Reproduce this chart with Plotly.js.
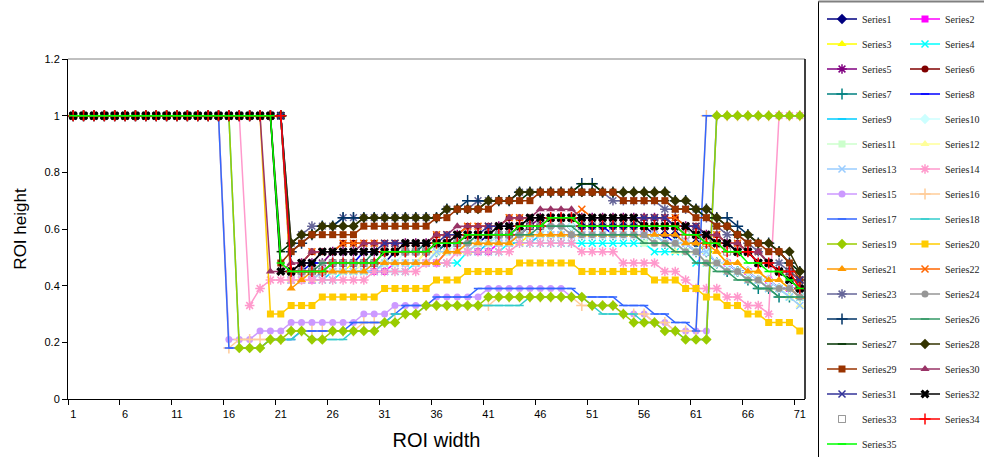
<!DOCTYPE html>
<html><head><meta charset="utf-8">
<script src="https://cdn.plot.ly/plotly-3.0.1.min.js"></script>
<style>html,body{margin:0;padding:0;background:#fff}#chart{width:984px;height:457px}</style>
</head><body><div id="chart"></div>
<script>
const categories = [1,2,3,4,5,6,7,8,9,10,11,12,13,14,15,16,17,18,19,20,21,22,23,24,25,26,27,28,29,30,31,32,33,34,35,36,37,38,39,40,41,42,43,44,45,46,47,48,49,50,51,52,53,54,55,56,57,58,59,60,61,62,63,64,65,66,67,68,69,70,71];
const xTickValues = [1,6,11,16,21,26,31,36,41,46,51,56,61,66,71];
const xTickLabels = ['1','6','11','16','21','26','31','36','41','46','51','56','61','66','71'];
const xTickMarks = [0.5,5.5,10.5,15.5,20.5,25.5,30.5,35.5,40.5,45.5,50.5,55.5,60.5,65.5,70.5];
const yTickValues = [0,0.2,0.4,0.6,0.8,1,1.2];
const seriesNames = ['Series1','Series2','Series3','Series4','Series5','Series6','Series7','Series8','Series9','Series10','Series11','Series12','Series13','Series14','Series15','Series16','Series17','Series18','Series19','Series20','Series21','Series22','Series23','Series24','Series25','Series26','Series27','Series28','Series29','Series30','Series31','Series32','Series33','Series34','Series35'];

const S1 = [1,1,1,1,1,1,1,1,1,1, 1,1,1,1,1,1,1,1,1,1, 1,.45,.45,.45,.45,.48,.48,.48,.48,.48, .48,.52,.52,.52,.52,.52,.55,.55,.55,.55, .58,.58,.58,.58,.61,.61,.61,.61,.61,.61, .61,.61,.61,.61,.61,.61,.58,.58,.58,.55, .55,.52,.48,.48,.45,.45,.42,.42,.39,.39,.39];
const S2 = [1,1,1,1,1,1,1,1,1,1, 1,1,1,1,1,1,1,1,1,1, 1,.42,.42,.42,.45,.45,.45,.45,.45,.45, .45,.48,.48,.48,.48,.48,.52,.52,.52,.52, .52,.55,.55,.58,.58,.58,.58,.58,.58,.58, .58,.58,.58,.58,.58,.58,.58,.55,.55,.55, .52,.52,.48,.48,.45,.45,.42,.42,.39,.39,.36];
const S3 = [1,1,1,1,1,1,1,1,1,1, 1,1,1,1,1,1,1,1,1,1, 1,.45,.45,.45,.45,.45,.45,.48,.48,.48, .48,.48,.48,.48,.52,.52,.52,.52,.52,.55, .55,.55,.55,.55,.58,.58,.58,.58,.58,.58, .58,.58,.58,.58,.58,.58,.58,.55,.55,.55, .55,.52,.52,.48,.48,.45,.45,.42,.42,.39,.36];
const S4 = [1,1,1,1,1,1,1,1,1,1, 1,1,1,1,1,1,1,1,1,1, 1,.42,.42,.42,.42,.42,.45,.45,.45,.45, .45,.45,.45,.48,.48,.48,.48,.48,.52,.52, .52,.52,.55,.55,.55,.55,.55,.55,.55,.55, .55,.55,.55,.55,.55,.55,.52,.52,.52,.52, .48,.48,.48,.45,.45,.42,.42,.39,.39,.36,.36];
const S5 = [1,1,1,1,1,1,1,1,1,1, 1,1,1,1,1,1,1,1,1,1, 1,.45,.48,.48,.48,.52,.52,.52,.52,.52, .52,.52,.55,.55,.55,.55,.55,.58,.58,.58, .58,.61,.61,.61,.61,.64,.64,.64,.64,.64, .64,.64,.64,.64,.64,.64,.64,.64,.61,.61, .58,.58,.55,.55,.52,.52,.48,.48,.45,.45,.42];
const S6 = [1,1,1,1,1,1,1,1,1,1, 1,1,1,1,1,1,1,1,1,1, 1,.45,.48,.52,.52,.52,.55,.55,.55,.55, .55,.55,.55,.55,.55,.58,.58,.58,.61,.61, .61,.61,.64,.64,.64,.64,.64,.64,.64,.64, .64,.64,.64,.64,.64,.64,.64,.64,.64,.61, .61,.58,.58,.55,.55,.52,.52,.48,.45,.45,.42];
const S7 = [1,1,1,1,1,1,1,1,1,1, 1,1,1,1,1,1,1,1,1,1, 1,.45,.45,.45,.45,.48,.48,.48,.48,.48, .52,.52,.52,.52,.52,.52,.55,.55,.55,.55, .55,.58,.58,.58,.58,.58,.58,.58,.58,.58, .58,.58,.58,.58,.58,.58,.58,.55,.55,.55, .52,.52,.48,.45,.45,.42,.39,.39,.36,.36,.36];
const S8 = [1,1,1,1,1,1,1,1,1,1, 1,1,1,1,1,1,1,1,1,1, 1,.45,.45,.48,.48,.48,.48,.48,.52,.52, .52,.52,.52,.52,.55,.55,.55,.55,.58,.58, .58,.58,.58,.61,.61,.61,.61,.61,.61,.61, .61,.61,.58,.58,.58,.58,.58,.58,.55,.55, .52,.52,.48,.48,.45,.45,.42,.42,.39,.39,.36];
const S9 = [1,1,1,1,1,1,1,1,1,1, 1,1,1,1,1,1,1,1,1,1, 1,.42,.42,.42,.42,.45,.45,.45,.45,.45, .48,.48,.48,.48,.48,.52,.52,.52,.52,.52, .55,.55,.55,.55,.55,.58,.58,.58,.58,.58, .58,.58,.58,.58,.58,.58,.55,.55,.55,.52, .52,.48,.48,.45,.45,.42,.42,.39,.39,.36,.36];
const S10 = [1,1,1,1,1,1,1,1,1,1, 1,1,1,1,1,1,1,1,1,1, 1,.45,.45,.45,.45,.48,.48,.48,.48,.48, .48,.48,.52,.52,.52,.52,.52,.55,.55,.55, .55,.58,.58,.58,.58,.58,.61,.61,.61,.58, .58,.58,.58,.58,.58,.58,.58,.55,.55,.55, .52,.52,.48,.48,.45,.45,.42,.42,.39,.39,.36];
const S11 = [1,1,1,1,1,1,1,1,1,1, 1,1,1,1,1,1,1,1,1,1, 1,.42,.42,.45,.45,.45,.45,.45,.45,.48, .48,.48,.48,.48,.48,.52,.52,.52,.52,.55, .55,.55,.55,.58,.58,.58,.58,.58,.58,.58, .58,.58,.58,.58,.58,.55,.55,.55,.55,.52, .52,.48,.48,.45,.45,.42,.42,.39,.39,.36,.36];
const S12 = [1,1,1,1,1,1,1,1,1,1, 1,1,1,1,1,1,1,1,1,1, 1,.42,.42,.42,.45,.45,.45,.45,.48,.48, .48,.48,.48,.48,.52,.52,.52,.52,.55,.55, .55,.55,.55,.58,.58,.58,.58,.58,.58,.58, .58,.58,.58,.58,.58,.58,.55,.55,.52,.52, .52,.48,.48,.45,.45,.42,.42,.39,.39,.36,.33];
const S13 = [1,1,1,1,1,1,1,1,1,1, 1,1,1,1,1,1,1,1,1,1, 1,.42,.42,.42,.45,.45,.45,.45,.45,.45, .48,.48,.48,.48,.48,.52,.52,.52,.52,.55, .55,.55,.55,.58,.58,.58,.58,.58,.58,.58, .58,.58,.58,.58,.58,.58,.58,.55,.55,.55, .52,.52,.48,.45,.45,.42,.42,.39,.39,.36,.33];
const S14 = [1,1,1,1,1,1,1,1,1,1, 1,1,1,1,1,1,1,.33,.39,.42, .42,.42,.42,.42,.42,.42,.42,.42,.42,.45, .45,.45,.45,.45,.48,.48,.48,.52,.52,.52, .52,.52,.52,.55,.55,.55,.55,.55,.55,.52, .52,.52,.52,.48,.48,.48,.48,.45,.45,.42, .39,.39,.39,.36,.36,.33,.33,.30,1,1,1];
const S15 = [1,1,1,1,1,1,1,1,1,1, 1,1,1,1,1,.21,.21,.21,.24,.24, .24,.27,.27,.27,.27,.27,.27,.27,.30,.30, .30,.33,.33,.33,.33,.36,.36,.36,.36,.36, .39,.39,.39,.39,.39,.39,.39,.39,.36,.36, .33,.33,.33,.30,.30,.30,.27,.27,.24,.24, .24,.24,1,1,1,1,1,1,1,1,1];
const S16 = [1,1,1,1,1,1,1,1,1,1, 1,1,1,1,1,.18,.21,.21,.21,.21, .21,.24,.24,.24,.24,.24,.24,.24,.27,.27, .27,.30,.30,.30,.33,.33,.33,.33,.33,.33, .33,.36,.36,.36,.36,.36,.36,.36,.36,.33, .33,.33,.33,.30,.30,.30,.27,.27,.24,.24, .24,1,1,1,1,1,1,1,1,1,1];
const S17 = [1,1,1,1,1,1,1,1,1,1, 1,1,1,1,1,.18,.18,.18,.18,.21, .21,.21,.24,.24,.24,.24,.24,.27,.27,.27, .27,.30,.33,.33,.33,.36,.36,.36,.36,.39, .39,.39,.39,.39,.39,.39,.39,.39,.39,.36, .36,.36,.36,.33,.33,.33,.30,.30,.27,.27, .24,1,1,1,1,1,1,1,1,1,1];
const S18 = [1,1,1,1,1,1,1,1,1,1, 1,1,1,1,1,1,.18,.18,.18,.21, .21,.21,.24,.21,.21,.21,.21,.24,.24,.24, .27,.30,.30,.30,.33,.33,.33,.33,.33,.33, .33,.33,.33,.33,.36,.36,.36,.36,.36,.36, .33,.30,.30,.30,.30,.27,.27,.24,.24,.21, .21,.21,1,1,1,1,1,1,1,1,1];
const S19 = [1,1,1,1,1,1,1,1,1,1, 1,1,1,1,1,1,.18,.18,.18,.21, .21,.24,.24,.21,.21,.24,.24,.24,.24,.24, .27,.27,.30,.30,.33,.33,.33,.33,.33,.33, .36,.36,.36,.36,.36,.36,.36,.36,.36,.36, .33,.33,.33,.30,.27,.27,.27,.24,.24,.21, .21,.21,1,1,1,1,1,1,1,1,1];
const S20 = [1,1,1,1,1,1,1,1,1,1, 1,1,1,1,1,1,1,1,1,.30, .30,.33,.33,.33,.36,.36,.36,.36,.36,.36, .39,.39,.39,.39,.39,.42,.42,.42,.45,.45, .45,.45,.45,.48,.48,.48,.48,.48,.48,.45, .45,.45,.45,.45,.45,.45,.42,.42,.42,.39, .39,.36,.36,.33,.33,.30,.30,.27,.27,.27,.24];
const S21 = [1,1,1,1,1,1,1,1,1,1, 1,1,1,1,1,1,1,1,1,1, 1,.39,.42,.45,.45,.45,.45,.45,.45,.48, .48,.48,.48,.48,.48,.48,.52,.52,.55,.55, .55,.55,.55,.58,.58,.58,.58,.58,.58,.58, .58,.58,.58,.58,.58,.58,.58,.58,.58,.55, .55,.55,.52,.48,.48,.45,.45,.42,.42,.39,.36];
const S22 = [1,1,1,1,1,1,1,1,1,1, 1,1,1,1,1,1,1,1,1,1, 1,.45,.48,.52,.52,.52,.55,.55,.55,.55, .55,.55,.55,.55,.55,.58,.58,.58,.61,.61, .61,.61,.64,.64,.64,.64,.64,.64,.64,.67, .64,.64,.64,.64,.64,.64,.64,.64,.64,.61, .61,.58,.58,.55,.55,.52,.52,.48,.45,.45,.42];
const S23 = [1,1,1,1,1,1,1,1,1,1, 1,1,1,1,1,1,1,1,1,1, 1,.55,.58,.61,.61,.61,.64,.64,.64,.64, .64,.64,.64,.64,.64,.64,.67,.67,.67,.70, .70,.70,.70,.73,.73,.73,.73,.73,.73,.73, .73,.73,.70,.70,.70,.70,.70,.67,.67,.67, .67,.64,.61,.58,.58,.55,.52,.48,.48,.45,.42];
const S24 = [1,1,1,1,1,1,1,1,1,1, 1,1,1,1,1,1,1,1,1,1, 1,.45,.45,.45,.48,.48,.48,.48,.48,.48, .52,.52,.52,.52,.52,.55,.55,.55,.55,.58, .58,.58,.58,.58,.61,.61,.61,.61,.58,.58, .58,.58,.58,.58,.58,.58,.55,.55,.55,.52, .52,.48,.48,.45,.45,.42,.42,.39,.39,.39,.36];
const S25 = [1,1,1,1,1,1,1,1,1,1, 1,1,1,1,1,1,1,1,1,1, 1,.52,.55,.58,.61,.61,.64,.64,.64,.64, .64,.64,.64,.64,.64,.64,.67,.67,.70,.70, .70,.70,.70,.73,.73,.73,.73,.73,.73,.76, .76,.73,.73,.73,.73,.73,.73,.73,.70,.70, .67,.67,.64,.64,.61,.58,.55,.55,.52,.48,.45];
const S26 = [1,1,1,1,1,1,1,1,1,1, 1,1,1,1,1,1,1,1,1,1, 1,.45,.45,.45,.48,.48,.48,.48,.48,.52, .52,.52,.52,.52,.55,.55,.55,.55,.55,.58, .58,.58,.58,.58,.58,.61,.61,.61,.61,.58, .58,.58,.58,.58,.58,.55,.55,.55,.52,.52, .48,.48,.45,.45,.42,.42,.39,.39,.36,.36,.36];
const S27 = [1,1,1,1,1,1,1,1,1,1, 1,1,1,1,1,1,1,1,1,1, .52,.55,.58,.58,.61,.61,.61,.61,.64,.64, .64,.64,.64,.64,.64,.64,.67,.67,.67,.67, .70,.70,.70,.70,.73,.73,.73,.73,.73,.76, .76,.73,.73,.73,.73,.73,.70,.70,.67,.67, .67,.64,.64,.61,.58,.58,.55,.55,.52,.48,.45];
const S28 = [1,1,1,1,1,1,1,1,1,1, 1,1,1,1,1,1,1,1,1,1, 1,.55,.58,.58,.61,.61,.61,.61,.64,.64, .64,.64,.64,.64,.64,.64,.67,.67,.67,.67, .70,.70,.70,.73,.73,.73,.73,.73,.73,.73, .73,.73,.73,.73,.73,.73,.73,.73,.70,.70, .67,.67,.64,.61,.58,.58,.55,.55,.52,.52,.45];
const S29 = [1,1,1,1,1,1,1,1,1,1, 1,1,1,1,1,1,1,1,1,1, .48,.52,.55,.58,.58,.58,.58,.58,.61,.61, .61,.61,.61,.61,.61,.64,.64,.67,.67,.67, .67,.70,.70,.70,.70,.73,.73,.73,.73,.73, .73,.73,.73,.70,.70,.70,.70,.70,.67,.67, .64,.64,.61,.61,.58,.55,.55,.52,.52,.48,.42];
const S30 = [1,1,1,1,1,1,1,1,1,1, 1,1,1,1,1,1,1,1,1,.45, .45,.48,.48,.52,.52,.52,.52,.52,.55,.55, .55,.55,.55,.55,.55,.58,.58,.61,.61,.61, .61,.61,.64,.64,.64,.67,.67,.67,.67,.64, .64,.64,.64,.64,.64,.64,.64,.64,.61,.61, .61,.58,.58,.55,.55,.52,.52,.48,.45,.42,.39];
const S31 = [1,1,1,1,1,1,1,1,1,1, 1,1,1,1,1,1,1,1,1,1, 1,.45,.48,.48,.52,.52,.52,.52,.52,.52, .55,.55,.55,.55,.55,.55,.58,.58,.58,.58, .61,.61,.61,.61,.64,.64,.64,.64,.64,.64, .64,.64,.64,.64,.64,.64,.64,.64,.61,.61, .61,.58,.55,.55,.52,.52,.48,.48,.45,.42,.42];
const S32 = [1,1,1,1,1,1,1,1,1,1, 1,1,1,1,1,1,1,1,1,1, .45,.45,.48,.48,.52,.52,.52,.52,.52,.52, .52,.52,.55,.55,.55,.55,.55,.58,.58,.58, .58,.61,.61,.61,.64,.64,.64,.64,.64,.64, .64,.64,.64,.64,.64,.61,.61,.61,.61,.61, .58,.58,.55,.55,.52,.52,.48,.48,.45,.42,.39];
const S33 = [1,1,1,1,1,1,1,1,1,1, 1,1,1,1,1,1,1,1,1,1, 1,.45,.45,.45,.45,.48,.48,.48,.48,.48, .52,.52,.52,.52,.52,.55,.55,.55,.58,.58, .58,.58,.58,.61,.61,.61,.64,.64,.64,.61, .61,.61,.61,.61,.61,.61,.61,.61,.61,.58, .58,.55,.55,.52,.52,.52,.48,.48,.45,.45,.39];
const S34 = [1,1,1,1,1,1,1,1,1,1, 1,1,1,1,1,1,1,1,1,1, 1,.45,.45,.45,.45,.48,.48,.48,.48,.48, .52,.52,.52,.52,.52,.55,.55,.55,.58,.58, .58,.58,.58,.61,.61,.61,.64,.64,.64,.61, .61,.61,.61,.61,.61,.61,.61,.61,.61,.58, .58,.55,.55,.52,.52,.52,.48,.48,.45,.45,.39];
const S35 = [1,1,1,1,1,1,1,1,1,1, 1,1,1,1,1,1,1,1,1,1, .48,.45,.45,.45,.45,.48,.48,.48,.48,.48, .52,.52,.52,.52,.52,.55,.55,.55,.58,.58, .58,.58,.58,.61,.61,.61,.64,.64,.64,.61, .61,.61,.61,.61,.61,.61,.61,.61,.61,.58, .58,.55,.55,.52,.52,.48,.48,.45,.45,.42,.39];

const seriesValues = [S1,S2,S3,S4,S5,S6,S7,S8,S9,S10,S11,S12,S13,S14,S15,S16,S17,S18,S19,S20,S21,S22,S23,S24,S25,S26,S27,S28,S29,S30,S31,S32,S33,S34,S35];
seriesValues.forEach((a,i)=>{ if(a.length!==categories.length) throw new Error('Series'+(i+1)+' has '+a.length+' values'); });

// styles (colour, marker symbol, marker size)
const seriesColors = ['#000080','#FF00FF','#FFFF00','#00FFFF','#800080','#800000','#008080','#0000FF','#00CCFF','#CCFFFF','#CCFFCC','#FFFF99','#99CCFF','#FF99CC','#CC99FF','#FFCC99','#3366FF','#33CCCC','#99CC00','#FFCC00','#FF9900','#FF6600','#666699','#969696','#003366','#339966','#003300','#333300','#993300','#993366','#333399','#000000','#000000','#FF0000','#00FF00'];
const seriesSymbols = ['diamond','square','triangle-up','x-thin-open','asterisk-open','circle','cross-thin-open','line-ew-open','line-ew-open','diamond','square','triangle-up','x-thin-open','asterisk-open','circle','cross-thin-open','line-ew-open','line-ew-open','diamond','square','triangle-up','x-thin-open','asterisk-open','circle','cross-thin-open','line-ew-open','line-ew-open','diamond','square','triangle-up','x-thin-open','x','square-open','cross-thin-open','line-ew-open'];
const seriesSizes = [8,7,8,7,8,7,8,6,6,8,7,8,7,8,7,8,6,6,8,7,8,7,8,7,8,6,6,8,7,8,7,8,7,8,6];

const traces = seriesValues.map((vals,i)=>{
  const open = seriesSymbols[i].indexOf('open')>=0;
  const t = {
    x: categories, y: vals, type:'scatter', name: seriesNames[i],
    mode: i===32 ? 'markers' : 'lines+markers',
    line: {color: seriesColors[i], width: 1.5},
    marker: {symbol: seriesSymbols[i], size: seriesSizes[i], color: seriesColors[i],
             line: {color: seriesColors[i], width: open ? 1.5 : 0}},
    legend: i%2===0 ? 'legend' : 'legend2',
    legendgroup: 'g'+i,
    hoverinfo: 'x+y+name'
  };
  if(i===32){ t.marker.color='rgba(0,0,0,0.4)'; t.marker.line={color:'rgba(0,0,0,0.4)',width:1}; }
  return t;
});

const L = 68, R = 805, T = 59, B = 399;
const px2x = p => (p-L)/(R-L);
const px2y = p => (B-p)/(B-T);
const legendFont = {family:'Liberation Serif, Times New Roman, serif', size:10, color:'#222'};

const layout = {
  width:984, height:457,
  margin:{l:L, r:984-R, t:T, b:457-B, autoexpand:false},
  paper_bgcolor:'#fff', plot_bgcolor:'#fff',
  showlegend:true,
  font:{family:'Liberation Sans, Arial, sans-serif', color:'#000'},
  xaxis:{
    range:[0.5,71.5], tickmode:'array', tickvals:xTickValues, ticktext:xTickLabels,
    ticks:'outside', ticklen:5, tickcolor:'rgba(0,0,0,0)',
    minor:{tickmode:'array', tickvals:xTickMarks, ticks:'outside', ticklen:5, tickcolor:'#000', tickwidth:1, showgrid:false},
    showline:true, linecolor:'#000', linewidth:1, showgrid:false, zeroline:false,
    tickfont:{size:11, color:'#000'},
    title:{text:'ROI width', font:{size:20, color:'#000'}, standoff:13}
  },
  yaxis:{
    range:[0,1.2], tickmode:'array', tickvals:yTickValues, ticks:'outside', ticklen:5, tickcolor:'#000',
    showline:true, linecolor:'#000', linewidth:1, showgrid:false, zeroline:false,
    tickfont:{size:11, color:'#000'},
    title:{text:'ROI height', font:{size:17, color:'#000'}, standoff:13}
  },
  legend:{x:px2x(822), xanchor:'left', y:px2y(4.5), yanchor:'top', orientation:'v', maxheight:600,
    traceorder:'grouped', tracegroupgap:6, font:legendFont, bgcolor:'rgba(0,0,0,0)', borderwidth:0},
  legend2:{x:px2x(905), xanchor:'left', y:px2y(4.5), yanchor:'top', orientation:'v', maxheight:600,
    traceorder:'grouped', tracegroupgap:6, font:legendFont, bgcolor:'rgba(0,0,0,0)', borderwidth:0},
  shapes:[
    {type:'line', xref:'paper', yref:'paper', x0:0, x1:1, y0:1, y1:1, line:{color:'#808080', width:1}},
    {type:'line', xref:'paper', yref:'paper', x0:1, x1:1, y0:0, y1:1, line:{color:'#000', width:1.5}},
    {type:'rect', xref:'paper', yref:'paper', x0:px2x(818.5), x1:px2x(1000), y0:px2y(470), y1:px2y(1.5), line:{color:'#000', width:1}, fillcolor:'rgba(0,0,0,0)'},
    {type:'line', xref:'paper', yref:'paper', x0:px2x(818.5), x1:px2x(1000), y0:px2y(1.5), y1:px2y(1.5), line:{color:'#808080', width:2}}
  ]
};

Plotly.newPlot('chart', traces, layout, {displayModeBar:false, staticPlot:true});
</script></body></html>
